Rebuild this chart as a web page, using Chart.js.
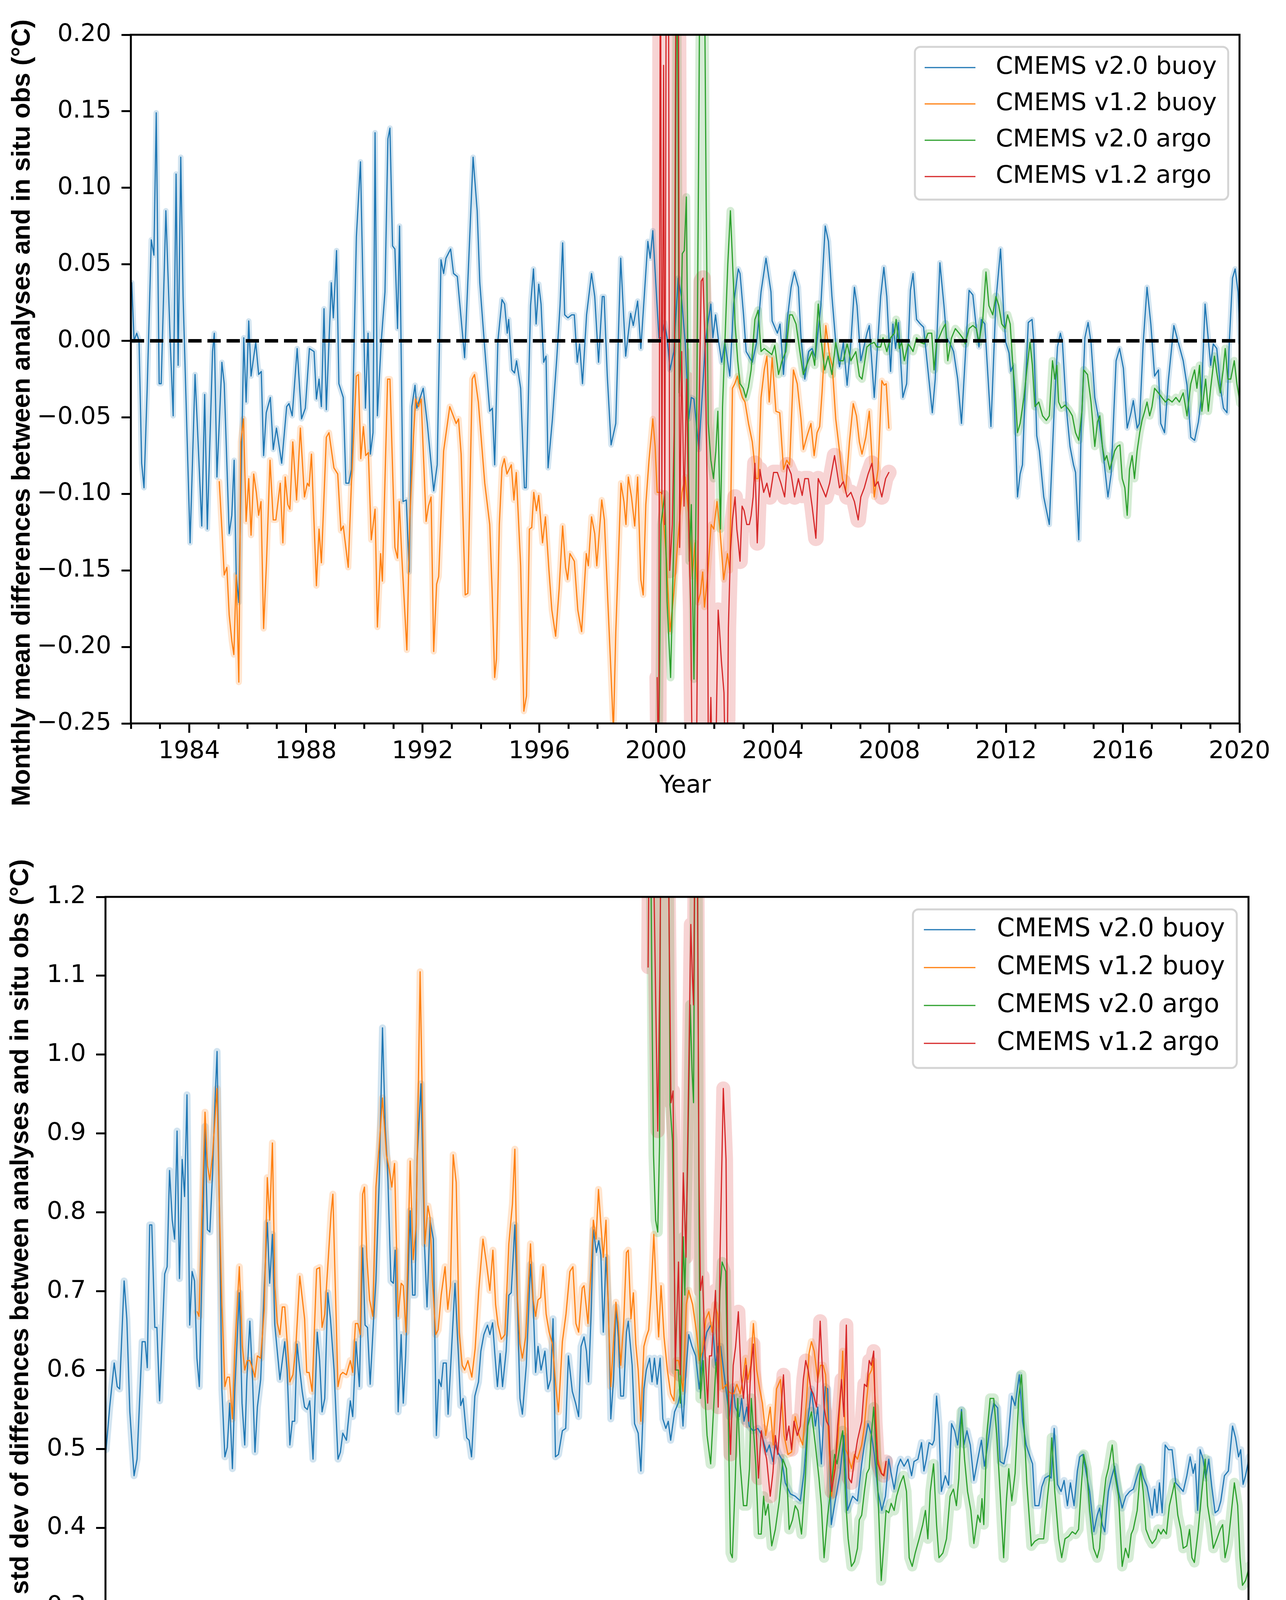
<!DOCTYPE html>
<html>
<head>
<meta charset="utf-8">
<script src="https://cdn.jsdelivr.net/npm/chart.js@4.4.0/dist/chart.umd.min.js"></script>
<style>
  html, body { margin: 0; padding: 0; background: #fff; }
  #wrap { position: relative; width: 3292px; height: 4390px; }
  .panel { position: absolute; left: 0; width: 3292px; }
</style>
</head>
<body>
<div id="wrap">
  <div class="panel" style="top:0;height:2150px"><canvas id="meanChart" width="3292" height="2150"></canvas></div>
  <div class="panel" style="top:2150px;height:2240px"><canvas id="stdChart" width="3292" height="2240"></canvas></div>
</div>
<script>
// ---- data: [decimal year, value] ----
const seriesNames = ['CMEMS v2.0 buoy', 'CMEMS v1.2 buoy', 'CMEMS v2.0 argo', 'CMEMS v1.2 argo'];
const yearRange = [1982, 2020];
const meanTicks = [-0.25, 0.20, 0.05];
const stdTicks = [0.3, 1.2, 0.1];

// top panel: monthly mean differences (degC)
const meanBuoyV20 = [[1982.03,0.038],[1982.11,0.0],[1982.2,0.005],[1982.28,0.0],[1982.37,-0.080],[1982.45,-0.096],[1982.56,-0.031],[1982.7,0.066],[1982.79,0.056],[1982.87,0.149],[1982.97,-0.028],[1983.04,-0.028],[1983.2,0.085],[1983.35,-0.001],[1983.45,-0.049],[1983.55,0.109],[1983.62,-0.016],[1983.71,0.120],[1983.79,0.029],[1984.03,-0.132],[1984.2,-0.022],[1984.29,-0.060],[1984.43,-0.121],[1984.53,-0.035],[1984.62,-0.123],[1984.8,-0.007],[1984.86,0.005],[1984.95,-0.089],[1985.12,-0.014],[1985.2,-0.028],[1985.37,-0.126],[1985.46,-0.114],[1985.54,-0.078],[1985.61,-0.153],[1985.7,-0.171],[1985.78,-0.09],[1985.87,0.002],[1985.95,-0.040],[1986.04,0.013],[1986.12,-0.023],[1986.28,-0.001],[1986.38,-0.022],[1986.47,-0.020],[1986.55,-0.075],[1986.64,-0.047],[1986.78,-0.037],[1986.88,-0.071],[1986.99,-0.057],[1987.17,-0.080],[1987.34,-0.043],[1987.42,-0.041],[1987.53,-0.049],[1987.7,-0.005],[1987.85,-0.051],[1987.98,-0.044],[1988.12,-0.005],[1988.28,-0.007],[1988.36,-0.038],[1988.45,-0.025],[1988.53,-0.043],[1988.62,0.021],[1988.7,-0.045],[1988.87,0.038],[1988.94,0.015],[1989.05,0.059],[1989.13,-0.028],[1989.28,-0.037],[1989.37,-0.093],[1989.47,-0.093],[1989.56,-0.084],[1989.73,0.068],[1989.87,0.117],[1990.04,-0.044],[1990.13,0.005],[1990.21,-0.074],[1990.3,-0.060],[1990.37,0.136],[1990.45,-0.049],[1990.58,-0.001],[1990.71,0.032],[1990.81,0.132],[1990.88,0.139],[1990.97,0.062],[1991.05,0.060],[1991.14,0.008],[1991.21,0.075],[1991.33,-0.105],[1991.44,-0.104],[1991.54,-0.151],[1991.63,-0.043],[1991.74,-0.029],[1991.8,-0.044],[1992.02,-0.031],[1992.16,-0.054],[1992.38,-0.098],[1992.5,-0.081],[1992.63,0.053],[1992.72,0.044],[1992.8,0.054],[1992.96,0.060],[1993.06,0.044],[1993.19,0.042],[1993.44,-0.011],[1993.73,0.120],[1993.87,0.085],[1993.96,0.038],[1994.13,-0.005],[1994.3,-0.046],[1994.39,-0.044],[1994.47,-0.081],[1994.58,0.0],[1994.72,0.027],[1994.81,0.024],[1994.9,0.005],[1994.95,0.014],[1995.06,-0.019],[1995.15,-0.021],[1995.22,-0.013],[1995.36,-0.031],[1995.49,-0.096],[1995.55,-0.096],[1995.7,0.023],[1995.8,0.047],[1995.89,0.011],[1995.98,0.037],[1996.06,0.024],[1996.15,-0.014],[1996.23,-0.010],[1996.3,-0.083],[1996.45,-0.051],[1996.6,-0.011],[1996.71,0.023],[1996.8,0.064],[1996.87,0.017],[1996.98,0.015],[1997.11,0.017],[1997.2,0.017],[1997.3,-0.014],[1997.38,-0.002],[1997.48,-0.028],[1997.62,0.017],[1997.79,0.044],[1997.9,0.029],[1998.03,-0.014],[1998.16,0.029],[1998.22,0.029],[1998.33,-0.023],[1998.46,-0.068],[1998.62,-0.054],[1998.79,0.054],[1998.96,-0.010],[1999.13,0.018],[1999.22,0.010],[1999.37,0.026],[1999.48,-0.005],[1999.72,0.065],[1999.8,0.054],[1999.89,0.072],[2000.1,0.002],[2000.19,0.002],[2000.29,0.012],[2000.38,0.002],[2000.48,-0.019],[2000.61,-0.007],[2000.76,0.041],[2000.87,0.029],[2001.0,-0.001],[2001.12,-0.051],[2001.21,-0.037],[2001.3,-0.038],[2001.47,-0.071],[2001.58,-0.037],[2001.68,-0.004],[2001.77,0.011],[2001.88,0.024],[2001.95,0.002],[2002.04,0.017],[2002.15,-0.001],[2002.25,-0.014],[2002.36,-0.001],[2002.53,-0.023],[2002.66,0.024],[2002.82,0.047],[2002.88,0.044],[2003.0,0.017],[2003.09,-0.007],[2003.3,-0.014],[2003.45,-0.001],[2003.6,0.032],[2003.77,0.054],[2003.94,0.032],[2003.98,0.013],[2004.16,0.005],[2004.25,0.011],[2004.37,-0.022],[2004.5,0.014],[2004.63,0.035],[2004.74,0.045],[2004.88,0.035],[2004.97,0.002],[2005.1,-0.025],[2005.23,-0.007],[2005.35,-0.005],[2005.46,-0.011],[2005.65,0.023],[2005.8,0.075],[2005.91,0.065],[2006.03,0.029],[2006.16,-0.001],[2006.29,-0.017],[2006.42,-0.001],[2006.55,-0.029],[2006.68,-0.001],[2006.8,0.035],[2006.89,0.023],[2007.02,-0.013],[2007.23,0.005],[2007.31,0.010],[2007.48,-0.037],[2007.7,0.029],[2007.81,0.048],[2007.91,0.029],[2008.04,-0.020],[2008.12,0.011],[2008.21,-0.005],[2008.31,0.012],[2008.46,-0.037],[2008.59,-0.028],[2008.72,0.033],[2008.81,0.044],[2008.93,0.014],[2009.06,0.011],[2009.17,0.009],[2009.32,-0.019],[2009.47,-0.047],[2009.57,-0.025],[2009.73,0.051],[2009.87,0.023],[2009.96,0.002],[2010.06,-0.001],[2010.2,-0.007],[2010.34,-0.025],[2010.47,-0.054],[2010.73,0.033],[2010.86,0.030],[2010.98,0.008],[2011.07,-0.004],[2011.15,0.014],[2011.27,0.011],[2011.48,-0.056],[2011.65,0.026],[2011.81,0.060],[2011.92,0.017],[2011.99,-0.001],[2012.1,-0.008],[2012.16,-0.020],[2012.24,-0.016],[2012.39,-0.102],[2012.48,-0.087],[2012.56,-0.081],[2012.65,-0.035],[2012.76,0.012],[2012.89,0.014],[2012.95,-0.001],[2013.05,-0.062],[2013.14,-0.072],[2013.29,-0.102],[2013.48,-0.120],[2013.65,-0.044],[2013.76,-0.004],[2013.86,0.005],[2013.93,-0.001],[2014.06,-0.043],[2014.19,-0.069],[2014.31,-0.081],[2014.38,-0.086],[2014.49,-0.130],[2014.57,-0.060],[2014.7,0.002],[2014.81,0.012],[2014.91,-0.001],[2015.04,-0.037],[2015.17,-0.051],[2015.3,-0.069],[2015.49,-0.102],[2015.6,-0.087],[2015.77,-0.013],[2015.89,-0.005],[2016.02,-0.018],[2016.15,-0.057],[2016.28,-0.047],[2016.36,-0.039],[2016.49,-0.057],[2016.57,-0.054],[2016.7,-0.001],[2016.83,0.035],[2016.96,0.011],[2017.09,-0.023],[2017.22,-0.019],[2017.3,-0.054],[2017.43,-0.060],[2017.56,-0.026],[2017.75,0.010],[2017.9,-0.001],[2018.07,-0.013],[2018.2,-0.029],[2018.33,-0.063],[2018.46,-0.065],[2018.59,-0.053],[2018.69,-0.038],[2018.82,0.024],[2018.93,0.001],[2019.01,-0.016],[2019.1,-0.002],[2019.22,-0.005],[2019.35,-0.031],[2019.45,-0.044],[2019.57,-0.047],[2019.65,-0.001],[2019.76,0.041],[2019.85,0.047],[2019.95,0.032],[2020.02,-0.001]];

const meanBuoyV12 = [[1985.03,-0.092],[1985.12,-0.123],[1985.2,-0.153],[1985.29,-0.148],[1985.37,-0.179],[1985.46,-0.196],[1985.53,-0.205],[1985.61,-0.153],[1985.7,-0.223],[1985.77,-0.066],[1985.86,-0.051],[1985.95,-0.118],[1986.04,-0.090],[1986.12,-0.127],[1986.21,-0.087],[1986.3,-0.099],[1986.38,-0.114],[1986.46,-0.105],[1986.55,-0.188],[1986.65,-0.144],[1986.77,-0.078],[1986.88,-0.117],[1986.97,-0.117],[1987.12,-0.093],[1987.21,-0.132],[1987.29,-0.089],[1987.38,-0.107],[1987.45,-0.110],[1987.55,-0.066],[1987.68,-0.104],[1987.81,-0.057],[1987.95,-0.102],[1988.05,-0.093],[1988.11,-0.095],[1988.19,-0.074],[1988.36,-0.160],[1988.45,-0.123],[1988.53,-0.145],[1988.7,-0.063],[1988.79,-0.060],[1988.96,-0.083],[1989.09,-0.087],[1989.2,-0.124],[1989.28,-0.121],[1989.45,-0.148],[1989.56,-0.093],[1989.73,-0.023],[1989.8,-0.022],[1989.88,-0.077],[1989.97,-0.056],[1990.05,-0.075],[1990.14,-0.073],[1990.24,-0.130],[1990.37,-0.110],[1990.45,-0.187],[1990.56,-0.139],[1990.62,-0.157],[1990.8,-0.025],[1990.88,-0.025],[1991.05,-0.135],[1991.14,-0.142],[1991.2,-0.105],[1991.29,-0.142],[1991.46,-0.202],[1991.56,-0.117],[1991.69,-0.062],[1991.76,-0.038],[1991.86,-0.043],[1991.95,-0.038],[1992.12,-0.118],[1992.2,-0.108],[1992.29,-0.102],[1992.38,-0.203],[1992.48,-0.159],[1992.55,-0.154],[1992.72,-0.072],[1992.93,-0.043],[1993.15,-0.054],[1993.23,-0.051],[1993.32,-0.074],[1993.46,-0.166],[1993.55,-0.165],[1993.7,-0.025],[1993.78,-0.022],[1993.91,-0.040],[1994.13,-0.093],[1994.3,-0.12],[1994.38,-0.162],[1994.47,-0.22],[1994.53,-0.208],[1994.63,-0.12],[1994.72,-0.083],[1994.8,-0.077],[1994.89,-0.087],[1995.04,-0.081],[1995.13,-0.104],[1995.21,-0.086],[1995.36,-0.147],[1995.47,-0.242],[1995.56,-0.232],[1995.66,-0.123],[1995.74,-0.122],[1995.81,-0.099],[1995.9,-0.111],[1995.98,-0.101],[1996.11,-0.132],[1996.21,-0.115],[1996.33,-0.150],[1996.43,-0.176],[1996.56,-0.193],[1996.68,-0.162],[1996.8,-0.121],[1996.9,-0.148],[1996.97,-0.156],[1997.05,-0.139],[1997.2,-0.144],[1997.32,-0.176],[1997.45,-0.19],[1997.61,-0.139],[1997.68,-0.147],[1997.79,-0.115],[1997.9,-0.126],[1997.97,-0.147],[1998.14,-0.104],[1998.23,-0.117],[1998.35,-0.171],[1998.45,-0.214],[1998.54,-0.255],[1998.62,-0.191],[1998.8,-0.093],[1998.9,-0.105],[1998.97,-0.120],[1999.05,-0.089],[1999.16,-0.102],[1999.27,-0.121],[1999.37,-0.089],[1999.48,-0.156],[1999.56,-0.166],[1999.65,-0.107],[1999.76,-0.078],[1999.89,-0.051],[1999.97,-0.069],[2000.04,-0.099],[2000.18,-0.099],[2000.36,-0.143],[2000.48,-0.19],[2000.61,-0.165],[2000.78,-0.123],[2000.89,-0.099],[2001.0,-0.089],[2001.15,-0.12],[2001.24,-0.154],[2001.34,-0.132],[2001.44,-0.171],[2001.52,-0.165],[2001.6,-0.151],[2001.66,-0.174],[2001.77,-0.153],[2001.89,-0.120],[2001.98,-0.123],[2002.09,-0.105],[2002.19,-0.123],[2002.32,-0.156],[2002.45,-0.139],[2002.53,-0.150],[2002.62,-0.031],[2002.7,-0.028],[2002.79,-0.023],[2002.87,-0.031],[2002.96,-0.037],[2003.05,-0.040],[2003.17,-0.054],[2003.3,-0.066],[2003.43,-0.09],[2003.5,-0.09],[2003.6,-0.037],[2003.71,-0.019],[2003.8,-0.01],[2003.88,-0.04],[2003.98,-0.011],[2004.11,-0.046],[2004.24,-0.047],[2004.37,-0.084],[2004.48,-0.078],[2004.58,-0.081],[2004.71,-0.019],[2004.84,-0.028],[2004.97,-0.051],[2005.05,-0.071],[2005.18,-0.062],[2005.31,-0.054],[2005.42,-0.075],[2005.52,-0.060],[2005.61,-0.056],[2005.69,-0.034],[2005.82,0.01],[2005.95,-0.01],[2006.04,-0.016],[2006.16,-0.051],[2006.29,-0.072],[2006.39,-0.09],[2006.5,-0.098],[2006.63,-0.066],[2006.76,-0.041],[2006.87,-0.049],[2006.97,-0.066],[2007.06,-0.074],[2007.19,-0.063],[2007.31,-0.046],[2007.48,-0.102],[2007.61,-0.084],[2007.74,-0.026],[2007.82,-0.029],[2007.89,-0.028],[2007.98,-0.057]];

const meanArgoV20 = [[2000.08,-0.30],[2000.17,-0.12],[2000.3,-0.10],[2000.38,-0.17],[2000.5,-0.22],[2000.62,-0.12],[2000.72,0.30],[2000.79,-0.034],[2000.83,-0.019],[2000.9,0.057],[2000.97,0.059],[2001.04,0.094],[2001.1,-0.028],[2001.14,-0.144],[2001.21,-0.107],[2001.3,-0.221],[2001.37,-0.108],[2001.46,0.118],[2001.52,0.30],[2001.64,0.30],[2001.72,0.088],[2001.79,-0.054],[2001.88,-0.078],[2001.97,-0.090],[2002.05,-0.072],[2002.12,-0.046],[2002.21,-0.123],[2002.28,-0.043],[2002.39,0.014],[2002.46,0.050],[2002.55,0.085],[2002.62,0.053],[2002.71,0.011],[2002.8,-0.013],[2002.88,-0.028],[2002.99,-0.031],[2003.08,-0.037],[2003.17,-0.030],[2003.26,-0.019],[2003.33,-0.001],[2003.39,0.014],[2003.5,0.020],[2003.6,-0.007],[2003.71,-0.005],[2003.84,-0.007],[2003.97,-0.009],[2004.07,-0.003],[2004.2,-0.022],[2004.32,-0.013],[2004.45,-0.007],[2004.58,0.017],[2004.67,0.017],[2004.8,0.011],[2004.93,-0.007],[2005.05,-0.022],[2005.22,-0.013],[2005.35,-0.007],[2005.44,-0.016],[2005.56,0.024],[2005.65,0.002],[2005.78,-0.019],[2005.9,-0.010],[2006.03,-0.022],[2006.16,-0.001],[2006.29,-0.013],[2006.42,-0.013],[2006.55,-0.002],[2006.68,-0.013],[2006.85,-0.007],[2006.97,-0.023],[2007.06,-0.025],[2007.23,-0.004],[2007.35,-0.002],[2007.48,-0.001],[2007.57,-0.004],[2007.7,-0.004],[2007.78,0.002],[2007.91,-0.007],[2008.04,0.002],[2008.17,0.005],[2008.23,0.014],[2008.34,-0.005],[2008.42,-0.001],[2008.51,-0.013],[2008.64,-0.002],[2008.72,-0.004],[2008.81,-0.007],[2008.93,0.002],[2009.06,-0.001],[2009.19,-0.002],[2009.32,0.005],[2009.45,0.005],[2009.53,-0.019],[2009.62,-0.001],[2009.7,0.002],[2009.83,0.008],[2009.92,0.011],[2010.0,-0.013],[2010.13,0.002],[2010.26,0.008],[2010.39,0.005],[2010.51,0.002],[2010.6,-0.002],[2010.73,0.008],[2010.86,0.010],[2010.98,0.008],[2011.07,-0.001],[2011.2,0.014],[2011.31,0.045],[2011.41,0.023],[2011.54,0.017],[2011.65,0.029],[2011.75,0.023],[2011.85,0.011],[2011.97,0.008],[2012.05,0.017],[2012.14,0.011],[2012.22,-0.013],[2012.31,-0.034],[2012.39,-0.060],[2012.48,-0.054],[2012.61,-0.037],[2012.71,-0.019],[2012.82,-0.001],[2012.9,-0.016],[2012.99,-0.043],[2013.12,-0.040],[2013.25,-0.049],[2013.38,-0.052],[2013.48,-0.049],[2013.59,-0.013],[2013.67,-0.025],[2013.74,-0.016],[2013.8,-0.040],[2013.89,-0.044],[2014.02,-0.042],[2014.15,-0.045],[2014.27,-0.049],[2014.38,-0.060],[2014.49,-0.065],[2014.6,-0.046],[2014.66,-0.019],[2014.79,-0.022],[2014.91,-0.040],[2015.04,-0.069],[2015.13,-0.053],[2015.21,-0.049],[2015.3,-0.069],[2015.38,-0.078],[2015.45,-0.075],[2015.55,-0.084],[2015.64,-0.078],[2015.72,-0.072],[2015.81,-0.069],[2015.9,-0.068],[2015.98,-0.090],[2016.07,-0.096],[2016.15,-0.114],[2016.23,-0.084],[2016.32,-0.075],[2016.4,-0.090],[2016.49,-0.072],[2016.58,-0.060],[2016.66,-0.052],[2016.75,-0.046],[2016.83,-0.040],[2016.92,-0.049],[2017.0,-0.043],[2017.09,-0.031],[2017.22,-0.034],[2017.34,-0.037],[2017.46,-0.040],[2017.56,-0.038],[2017.69,-0.040],[2017.82,-0.037],[2017.94,-0.040],[2018.07,-0.034],[2018.2,-0.049],[2018.33,-0.028],[2018.46,-0.019],[2018.54,-0.031],[2018.63,-0.016],[2018.71,-0.046],[2018.84,-0.025],[2018.93,-0.046],[2019.01,-0.031],[2019.14,-0.010],[2019.23,-0.022],[2019.34,-0.034],[2019.44,-0.019],[2019.51,-0.005],[2019.6,-0.025],[2019.7,-0.025],[2019.82,-0.013],[2019.91,-0.028],[2020.02,-0.041]];

const meanArgoV12 = [[2000.04,-0.22],[2000.09,-0.30],[2000.15,0.30],[2000.2,-0.10],[2000.26,0.18],[2000.3,-0.12],[2000.36,0.32],[2000.42,0.32],[2000.47,-0.15],[2000.56,-0.12],[2000.62,-0.06],[2000.7,0.32],[2000.76,0.30],[2000.81,-0.135],[2000.88,-0.007],[2000.96,-0.108],[2001.05,-0.025],[2001.12,-0.12],[2001.19,-0.176],[2001.25,-0.30],[2001.38,-0.30],[2001.47,-0.05],[2001.55,0.039],[2001.61,0.041],[2001.68,-0.001],[2001.75,-0.09],[2001.8,-0.30],[2001.88,-0.233],[2001.95,-0.30],[2002.05,-0.27],[2002.13,-0.176],[2002.18,-0.19],[2002.24,-0.209],[2002.33,-0.23],[2002.37,-0.28],[2002.44,-0.28],[2002.48,-0.188],[2002.55,-0.138],[2002.62,-0.117],[2002.71,-0.102],[2002.77,-0.123],[2002.82,-0.132],[2002.88,-0.144],[2002.95,-0.108],[2003.02,-0.111],[2003.11,-0.12],[2003.2,-0.12],[2003.26,-0.114],[2003.33,-0.102],[2003.39,-0.080],[2003.47,-0.132],[2003.56,-0.084],[2003.69,-0.099],[2003.8,-0.093],[2003.9,-0.102],[2004.03,-0.086],[2004.16,-0.086],[2004.28,-0.093],[2004.41,-0.102],[2004.5,-0.081],[2004.63,-0.087],[2004.75,-0.102],[2004.88,-0.090],[2005.01,-0.101],[2005.1,-0.090],[2005.22,-0.090],[2005.35,-0.108],[2005.48,-0.129],[2005.56,-0.090],[2005.69,-0.096],[2005.82,-0.102],[2005.95,-0.093],[2006.12,-0.075],[2006.29,-0.096],[2006.42,-0.092],[2006.55,-0.102],[2006.68,-0.099],[2006.8,-0.105],[2006.93,-0.117],[2007.02,-0.102],[2007.14,-0.096],[2007.27,-0.087],[2007.4,-0.080],[2007.5,-0.095],[2007.61,-0.092],[2007.74,-0.102],[2007.87,-0.090],[2007.98,-0.086]];

const zeroLineYears = [1982, 2020];

// bottom panel: monthly std dev of differences (degC)
const stdBuoyV20 = [[1982.02,0.499],[1982.14,0.553],[1982.29,0.609],[1982.39,0.579],[1982.47,0.576],[1982.62,0.713],[1982.71,0.665],[1982.81,0.547],[1982.95,0.466],[1983.05,0.487],[1983.22,0.636],[1983.32,0.636],[1983.39,0.603],[1983.47,0.784],[1983.54,0.784],[1983.64,0.654],[1983.71,0.654],[1983.8,0.561],[1983.97,0.722],[1984.05,0.731],[1984.13,0.853],[1984.22,0.790],[1984.3,0.766],[1984.38,0.903],[1984.46,0.716],[1984.55,0.867],[1984.63,0.820],[1984.71,0.949],[1984.8,0.657],[1984.88,0.725],[1984.96,0.713],[1985.04,0.615],[1985.12,0.579],[1985.21,0.731],[1985.31,0.909],[1985.39,0.778],[1985.47,0.775],[1985.56,0.850],[1985.64,0.939],[1985.71,1.004],[1985.79,0.802],[1985.87,0.576],[1985.97,0.490],[1986.05,0.502],[1986.13,0.558],[1986.22,0.475],[1986.3,0.576],[1986.45,0.698],[1986.54,0.558],[1986.63,0.505],[1986.7,0.588],[1986.8,0.662],[1986.89,0.588],[1986.97,0.496],[1987.05,0.553],[1987.16,0.588],[1987.28,0.707],[1987.38,0.787],[1987.46,0.710],[1987.55,0.772],[1987.63,0.657],[1987.8,0.588],[1987.96,0.636],[1988.04,0.600],[1988.13,0.505],[1988.21,0.535],[1988.29,0.535],[1988.37,0.633],[1988.46,0.600],[1988.54,0.573],[1988.62,0.553],[1988.71,0.550],[1988.79,0.561],[1988.9,0.487],[1989.04,0.648],[1989.12,0.612],[1989.2,0.547],[1989.29,0.564],[1989.39,0.698],[1989.48,0.665],[1989.6,0.600],[1989.73,0.487],[1989.81,0.496],[1989.89,0.520],[1990.01,0.511],[1990.14,0.561],[1990.22,0.541],[1990.33,0.636],[1990.44,0.579],[1990.55,0.755],[1990.63,0.657],[1990.71,0.654],[1990.8,0.582],[1990.91,0.662],[1990.99,0.713],[1991.1,0.838],[1991.21,1.034],[1991.3,0.909],[1991.38,0.853],[1991.49,0.713],[1991.57,0.710],[1991.63,0.752],[1991.73,0.547],[1991.83,0.645],[1991.9,0.558],[1991.98,0.618],[1992.13,0.802],[1992.21,0.695],[1992.29,0.695],[1992.36,0.867],[1992.49,0.963],[1992.61,0.755],[1992.69,0.680],[1992.79,0.790],[1992.9,0.766],[1993.0,0.517],[1993.08,0.588],[1993.16,0.579],[1993.23,0.609],[1993.33,0.609],[1993.39,0.544],[1993.49,0.615],[1993.62,0.710],[1993.72,0.630],[1993.81,0.555],[1993.89,0.564],[1994.01,0.514],[1994.09,0.511],[1994.17,0.490],[1994.28,0.567],[1994.4,0.585],[1994.48,0.624],[1994.58,0.645],[1994.7,0.657],[1994.78,0.645],[1994.87,0.660],[1994.95,0.618],[1995.03,0.579],[1995.12,0.621],[1995.2,0.579],[1995.32,0.624],[1995.41,0.695],[1995.49,0.698],[1995.61,0.784],[1995.7,0.677],[1995.78,0.564],[1995.86,0.544],[1995.99,0.606],[1996.13,0.734],[1996.22,0.683],[1996.3,0.597],[1996.38,0.630],[1996.48,0.600],[1996.61,0.624],[1996.71,0.576],[1996.8,0.588],[1996.88,0.665],[1996.96,0.490],[1997.06,0.493],[1997.19,0.523],[1997.3,0.526],[1997.39,0.618],[1997.52,0.573],[1997.63,0.558],[1997.73,0.541],[1997.81,0.630],[1997.91,0.642],[1997.99,0.624],[1998.06,0.585],[1998.14,0.665],[1998.22,0.778],[1998.32,0.749],[1998.4,0.764],[1998.47,0.746],[1998.55,0.648],[1998.64,0.743],[1998.72,0.683],[1998.8,0.538],[1998.89,0.588],[1998.97,0.680],[1999.05,0.642],[1999.13,0.567],[1999.22,0.567],[1999.32,0.648],[1999.38,0.662],[1999.51,0.606],[1999.59,0.532],[1999.71,0.520],[1999.8,0.472],[1999.9,0.576],[1999.98,0.600],[2000.09,0.615],[2000.17,0.585],[2000.25,0.615],[2000.34,0.582],[2000.44,0.615],[2000.53,0.538],[2000.63,0.526],[2000.71,0.535],[2000.79,0.511],[2000.92,0.547],[2001.04,0.558],[2001.12,0.573],[2001.2,0.529],[2001.29,0.594],[2001.39,0.645],[2001.5,0.630],[2001.62,0.618],[2001.74,0.576],[2001.87,0.624],[2001.99,0.648],[2002.12,0.657],[2002.2,0.648],[2002.28,0.606],[2002.37,0.630],[2002.45,0.630],[2002.57,0.594],[2002.74,0.541],[2002.86,0.579],[2002.94,0.553],[2003.07,0.541],[2003.15,0.564],[2003.23,0.535],[2003.32,0.553],[2003.4,0.529],[2003.53,0.523],[2003.69,0.526],[2003.82,0.517],[2003.98,0.496],[2004.07,0.505],[2004.19,0.484],[2004.27,0.505],[2004.35,0.496],[2004.48,0.487],[2004.6,0.457],[2004.77,0.443],[2004.93,0.440],[2005.1,0.434],[2005.22,0.469],[2005.35,0.535],[2005.47,0.576],[2005.6,0.529],[2005.68,0.553],[2005.8,0.481],[2005.93,0.579],[2006.01,0.576],[2006.13,0.404],[2006.26,0.434],[2006.42,0.469],[2006.55,0.517],[2006.67,0.422],[2006.84,0.440],[2007.0,0.434],[2007.14,0.481],[2007.23,0.505],[2007.35,0.532],[2007.47,0.517],[2007.56,0.493],[2007.68,0.446],[2007.81,0.422],[2007.93,0.440],[2008.04,0.487],[2008.12,0.469],[2008.22,0.449],[2008.34,0.478],[2008.43,0.487],[2008.55,0.478],[2008.68,0.487],[2008.8,0.466],[2008.88,0.484],[2009.01,0.487],[2009.13,0.508],[2009.21,0.472],[2009.29,0.487],[2009.38,0.508],[2009.49,0.505],[2009.55,0.511],[2009.63,0.567],[2009.71,0.529],[2009.79,0.446],[2009.92,0.466],[2010.03,0.454],[2010.13,0.532],[2010.23,0.523],[2010.33,0.505],[2010.46,0.550],[2010.54,0.505],[2010.64,0.523],[2010.75,0.505],[2010.87,0.460],[2011.0,0.487],[2011.12,0.511],[2011.22,0.478],[2011.33,0.505],[2011.45,0.541],[2011.53,0.558],[2011.66,0.552],[2011.74,0.484],[2011.87,0.481],[2011.99,0.505],[2012.13,0.567],[2012.24,0.555],[2012.38,0.594],[2012.49,0.535],[2012.61,0.505],[2012.71,0.493],[2012.82,0.481],[2012.9,0.428],[2013.03,0.428],[2013.13,0.452],[2013.23,0.463],[2013.36,0.466],[2013.44,0.463],[2013.54,0.526],[2013.65,0.455],[2013.77,0.446],[2013.87,0.460],[2013.98,0.428],[2014.08,0.457],[2014.2,0.428],[2014.31,0.472],[2014.39,0.490],[2014.49,0.493],[2014.62,0.466],[2014.72,0.446],[2014.86,0.395],[2014.97,0.416],[2015.05,0.425],[2015.14,0.404],[2015.22,0.395],[2015.34,0.446],[2015.44,0.463],[2015.55,0.478],[2015.68,0.446],[2015.8,0.425],[2015.92,0.440],[2016.05,0.446],[2016.17,0.449],[2016.3,0.466],[2016.41,0.478],[2016.51,0.463],[2016.63,0.452],[2016.72,0.434],[2016.8,0.416],[2016.88,0.449],[2016.96,0.419],[2017.04,0.457],[2017.13,0.419],[2017.23,0.505],[2017.34,0.499],[2017.46,0.499],[2017.58,0.457],[2017.7,0.452],[2017.83,0.446],[2017.95,0.466],[2018.06,0.490],[2018.16,0.469],[2018.23,0.481],[2018.31,0.422],[2018.39,0.499],[2018.49,0.487],[2018.58,0.463],[2018.68,0.487],[2018.78,0.452],[2018.89,0.419],[2018.99,0.422],[2019.08,0.434],[2019.2,0.466],[2019.33,0.472],[2019.47,0.529],[2019.57,0.514],[2019.67,0.490],[2019.74,0.499],[2019.82,0.455],[2019.9,0.466],[2019.98,0.481],[2020.02,0.49]];

const stdBuoyV12 = [[1985.05,0.674],[1985.11,0.668],[1985.21,0.802],[1985.31,0.927],[1985.39,0.859],[1985.47,0.841],[1985.56,0.873],[1985.71,0.957],[1985.79,0.802],[1985.87,0.683],[1985.97,0.579],[1986.05,0.591],[1986.12,0.591],[1986.22,0.538],[1986.3,0.624],[1986.45,0.731],[1986.55,0.630],[1986.63,0.600],[1986.71,0.612],[1986.8,0.612],[1986.88,0.603],[1986.97,0.591],[1987.05,0.618],[1987.16,0.615],[1987.28,0.677],[1987.38,0.844],[1987.46,0.790],[1987.55,0.888],[1987.63,0.707],[1987.71,0.660],[1987.8,0.645],[1987.88,0.680],[1987.96,0.680],[1988.04,0.636],[1988.13,0.585],[1988.23,0.594],[1988.32,0.624],[1988.46,0.719],[1988.54,0.692],[1988.62,0.665],[1988.69,0.597],[1988.77,0.597],[1988.87,0.573],[1989.02,0.728],[1989.12,0.730],[1989.2,0.654],[1989.29,0.671],[1989.39,0.731],[1989.5,0.799],[1989.56,0.823],[1989.64,0.707],[1989.73,0.579],[1989.81,0.594],[1989.89,0.597],[1990.01,0.594],[1990.14,0.612],[1990.22,0.597],[1990.31,0.659],[1990.39,0.659],[1990.47,0.645],[1990.55,0.823],[1990.61,0.832],[1990.69,0.743],[1990.78,0.689],[1990.89,0.668],[1990.99,0.832],[1991.09,0.879],[1991.21,0.945],[1991.34,0.873],[1991.44,0.853],[1991.52,0.832],[1991.61,0.862],[1991.73,0.668],[1991.83,0.710],[1991.9,0.707],[1991.99,0.648],[1992.13,0.865],[1992.23,0.740],[1992.33,0.784],[1992.46,1.105],[1992.54,0.927],[1992.62,0.760],[1992.72,0.808],[1992.79,0.793],[1992.87,0.713],[1992.98,0.645],[1993.06,0.651],[1993.16,0.695],[1993.29,0.731],[1993.38,0.677],[1993.47,0.707],[1993.56,0.873],[1993.66,0.838],[1993.76,0.648],[1993.86,0.606],[1993.94,0.600],[1994.05,0.612],[1994.18,0.591],[1994.29,0.627],[1994.41,0.701],[1994.55,0.766],[1994.66,0.737],[1994.78,0.701],[1994.88,0.752],[1994.97,0.683],[1995.05,0.657],[1995.16,0.639],[1995.28,0.645],[1995.41,0.760],[1995.53,0.811],[1995.61,0.880],[1995.7,0.689],[1995.78,0.633],[1995.86,0.615],[1995.97,0.642],[1996.13,0.760],[1996.22,0.689],[1996.3,0.668],[1996.38,0.689],[1996.47,0.692],[1996.55,0.731],[1996.65,0.671],[1996.75,0.648],[1996.86,0.633],[1996.98,0.576],[1997.06,0.547],[1997.19,0.636],[1997.31,0.671],[1997.44,0.725],[1997.54,0.731],[1997.64,0.659],[1997.73,0.648],[1997.85,0.704],[1997.91,0.707],[1998.04,0.659],[1998.14,0.725],[1998.22,0.790],[1998.31,0.766],[1998.39,0.829],[1998.47,0.784],[1998.55,0.743],[1998.64,0.790],[1998.72,0.671],[1998.8,0.579],[1998.97,0.686],[1999.05,0.659],[1999.13,0.606],[1999.23,0.662],[1999.32,0.749],[1999.38,0.752],[1999.47,0.665],[1999.55,0.698],[1999.63,0.633],[1999.71,0.600],[1999.8,0.535],[1999.9,0.630],[1999.98,0.642],[2000.06,0.651],[2000.14,0.698],[2000.23,0.772],[2000.31,0.701],[2000.39,0.642],[2000.47,0.707],[2000.57,0.642],[2000.68,0.600],[2000.79,0.570],[2000.9,0.561],[2000.96,0.612],[2001.05,0.612],[2001.13,0.594],[2001.2,0.573],[2001.31,0.683],[2001.39,0.701],[2001.52,0.683],[2001.65,0.648],[2001.74,0.612],[2001.85,0.624],[2001.96,0.665],[2002.06,0.674],[2002.17,0.648],[2002.26,0.683],[2002.35,0.671],[2002.43,0.630],[2002.52,0.576],[2002.65,0.582],[2002.71,0.573],[2002.82,0.570],[2002.89,0.570],[2002.99,0.582],[2003.1,0.570],[2003.19,0.588],[2003.28,0.615],[2003.36,0.588],[2003.45,0.606],[2003.54,0.659],[2003.65,0.600],[2003.75,0.576],[2003.84,0.558],[2003.95,0.517],[2004.1,0.553],[2004.2,0.505],[2004.31,0.576],[2004.44,0.588],[2004.56,0.517],[2004.69,0.493],[2004.81,0.496],[2004.93,0.541],[2005.06,0.517],[2005.18,0.505],[2005.31,0.564],[2005.39,0.621],[2005.47,0.636],[2005.56,0.624],[2005.68,0.588],[2005.77,0.606],[2005.86,0.606],[2005.94,0.594],[2006.05,0.505],[2006.14,0.440],[2006.22,0.475],[2006.34,0.505],[2006.47,0.588],[2006.51,0.624],[2006.61,0.499],[2006.68,0.493],[2006.8,0.475],[2006.9,0.493],[2007.0,0.487],[2007.14,0.505],[2007.23,0.529],[2007.31,0.564],[2007.39,0.594],[2007.47,0.600],[2007.52,0.612],[2007.6,0.553],[2007.68,0.487],[2007.81,0.469],[2007.89,0.466],[2007.95,0.481]];

const stdArgoV20 = [[2000.06,1.30],[2000.12,1.30],[2000.18,1.022],[2000.22,0.873],[2000.29,0.790],[2000.36,0.775],[2000.42,0.885],[2000.46,1.30],[2000.72,1.30],[2000.77,0.936],[2000.85,0.891],[2000.96,0.600],[2001.05,0.600],[2001.11,0.558],[2001.21,0.769],[2001.26,0.695],[2001.35,0.85],[2001.44,1.063],[2001.5,0.98],[2001.55,0.939],[2001.6,1.30],[2001.68,1.30],[2001.73,0.80],[2001.78,0.564],[2001.87,0.612],[2002.0,0.517],[2002.12,0.481],[2002.22,0.553],[2002.3,0.610],[2002.36,0.580],[2002.43,0.700],[2002.5,0.737],[2002.62,0.725],[2002.69,0.576],[2002.78,0.368],[2002.84,0.362],[2002.93,0.452],[2003.02,0.564],[2003.1,0.481],[2003.21,0.428],[2003.32,0.428],[2003.41,0.475],[2003.47,0.564],[2003.55,0.520],[2003.62,0.480],[2003.71,0.392],[2003.8,0.392],[2003.88,0.440],[2003.94,0.416],[2004.03,0.430],[2004.15,0.377],[2004.27,0.398],[2004.4,0.434],[2004.52,0.487],[2004.64,0.475],[2004.73,0.398],[2004.84,0.410],[2004.93,0.428],[2005.02,0.422],[2005.14,0.392],[2005.25,0.452],[2005.35,0.529],[2005.47,0.547],[2005.6,0.505],[2005.72,0.463],[2005.8,0.428],[2005.89,0.362],[2006.01,0.416],[2006.14,0.457],[2006.24,0.493],[2006.32,0.481],[2006.42,0.505],[2006.51,0.523],[2006.61,0.434],[2006.69,0.386],[2006.8,0.351],[2006.9,0.357],[2007.0,0.374],[2007.06,0.410],[2007.14,0.416],[2007.23,0.446],[2007.31,0.469],[2007.39,0.475],[2007.46,0.517],[2007.54,0.553],[2007.6,0.511],[2007.68,0.446],[2007.79,0.333],[2007.89,0.386],[2007.95,0.422],[2008.04,0.419],[2008.12,0.431],[2008.22,0.422],[2008.3,0.440],[2008.43,0.457],[2008.53,0.466],[2008.63,0.446],[2008.72,0.362],[2008.82,0.351],[2008.92,0.368],[2009.05,0.386],[2009.17,0.404],[2009.26,0.422],[2009.34,0.386],[2009.42,0.446],[2009.53,0.481],[2009.63,0.404],[2009.71,0.362],[2009.84,0.368],[2009.96,0.386],[2010.08,0.440],[2010.19,0.449],[2010.29,0.428],[2010.37,0.463],[2010.46,0.547],[2010.56,0.487],[2010.66,0.446],[2010.77,0.422],[2010.87,0.380],[2011.0,0.416],[2011.08,0.407],[2011.14,0.437],[2011.2,0.404],[2011.3,0.517],[2011.41,0.564],[2011.53,0.564],[2011.63,0.519],[2011.74,0.446],[2011.86,0.362],[2011.95,0.434],[2012.03,0.475],[2012.13,0.434],[2012.24,0.469],[2012.36,0.564],[2012.45,0.594],[2012.53,0.535],[2012.63,0.457],[2012.78,0.377],[2012.9,0.383],[2013.03,0.386],[2013.19,0.386],[2013.32,0.440],[2013.4,0.469],[2013.46,0.514],[2013.56,0.446],[2013.69,0.386],[2013.79,0.362],[2013.9,0.386],[2014.02,0.389],[2014.14,0.395],[2014.25,0.392],[2014.35,0.398],[2014.43,0.446],[2014.52,0.493],[2014.62,0.475],[2014.72,0.422],[2014.85,0.374],[2014.97,0.362],[2015.05,0.374],[2015.14,0.422],[2015.26,0.463],[2015.34,0.475],[2015.47,0.505],[2015.55,0.469],[2015.68,0.440],[2015.8,0.351],[2015.91,0.374],[2016.01,0.362],[2016.1,0.392],[2016.17,0.398],[2016.3,0.422],[2016.41,0.475],[2016.5,0.446],[2016.59,0.398],[2016.71,0.386],[2016.8,0.380],[2016.92,0.386],[2017.0,0.398],[2017.09,0.392],[2017.17,0.398],[2017.27,0.392],[2017.37,0.428],[2017.48,0.446],[2017.54,0.457],[2017.65,0.416],[2017.75,0.398],[2017.83,0.374],[2017.95,0.377],[2018.04,0.398],[2018.12,0.362],[2018.2,0.356],[2018.33,0.398],[2018.45,0.446],[2018.56,0.487],[2018.64,0.428],[2018.74,0.404],[2018.83,0.374],[2018.95,0.386],[2019.06,0.398],[2019.14,0.404],[2019.22,0.362],[2019.32,0.380],[2019.42,0.416],[2019.53,0.457],[2019.64,0.428],[2019.72,0.362],[2019.8,0.327],[2019.9,0.333],[2020.03,0.351]];

const stdArgoV12 = [[2000.04,1.111],[2000.08,1.30],[2000.2,1.30],[2000.28,1.10],[2000.36,0.903],[2000.43,1.10],[2000.47,1.30],[2000.7,1.30],[2000.77,1.05],[2000.8,0.939],[2000.87,0.954],[2000.94,0.600],[2001.05,0.737],[2001.11,0.594],[2001.21,0.850],[2001.3,0.743],[2001.38,0.95],[2001.46,1.165],[2001.51,1.10],[2001.55,1.063],[2001.6,1.30],[2001.67,1.30],[2001.73,0.85],[2001.78,0.701],[2001.85,0.719],[2001.93,0.624],[2002.02,0.558],[2002.08,0.618],[2002.15,0.618],[2002.28,0.701],[2002.33,0.624],[2002.37,0.553],[2002.43,0.743],[2002.54,0.957],[2002.63,0.867],[2002.69,0.594],[2002.78,0.493],[2002.87,0.606],[2002.95,0.630],[2003.04,0.674],[2003.13,0.594],[2003.21,0.564],[2003.3,0.606],[2003.38,0.535],[2003.45,0.600],[2003.54,0.633],[2003.62,0.535],[2003.71,0.463],[2003.8,0.523],[2003.88,0.505],[2003.98,0.487],[2004.1,0.440],[2004.19,0.470],[2004.27,0.517],[2004.35,0.493],[2004.44,0.541],[2004.54,0.594],[2004.64,0.511],[2004.72,0.529],[2004.81,0.499],[2004.89,0.535],[2005.0,0.517],[2005.1,0.529],[2005.2,0.588],[2005.28,0.612],[2005.36,0.600],[2005.45,0.576],[2005.53,0.570],[2005.64,0.553],[2005.76,0.662],[2005.89,0.553],[2005.97,0.535],[2006.05,0.529],[2006.14,0.446],[2006.26,0.475],[2006.34,0.529],[2006.47,0.588],[2006.55,0.541],[2006.63,0.657],[2006.71,0.463],[2006.8,0.457],[2006.9,0.487],[2007.0,0.511],[2007.14,0.535],[2007.23,0.582],[2007.31,0.579],[2007.39,0.612],[2007.46,0.606],[2007.54,0.624],[2007.6,0.535],[2007.68,0.481],[2007.79,0.469],[2007.87,0.466],[2007.95,0.484]];

// ---- styling ----
const lineColors = ['#1f77b4', '#ff7f0e', '#2ca02c', '#d62728'];
const bandColors = ['rgba(31,119,180,0.2)', 'rgba(255,127,14,0.2)', 'rgba(44,160,44,0.2)', 'rgba(214,39,40,0.2)'];

function toPoints(pairs) {
  return pairs.map(p => ({x: p[0], y: p[1]}));
}

function buildDatasets(seriesList, bandWidths, withZero) {
  const sets = [];
  seriesList.forEach((pairs, i) => {
    const pts = toPoints(pairs);
    // soft spread band behind each line
    sets.push({
      data: pts, borderColor: bandColors[i], borderWidth: bandWidths[i],
      borderJoinStyle: 'round', borderCapStyle: 'round',
      pointRadius: 0, fill: false, tension: 0, clip: 0, order: 20 - i
    });
    sets.push({
      label: seriesNames[i], legendRank: i + 1,
      data: pts, borderColor: lineColors[i], borderWidth: 3,
      borderJoinStyle: 'round', borderCapStyle: 'round',
      pointRadius: 0, fill: false, tension: 0, clip: 0, order: 8 - i
    });
  });
  if (withZero) {
    sets.push({
      data: zeroLineYears.map(x => ({x: x, y: 0})),
      borderColor: '#000', borderWidth: 9, borderDash: [34, 15],
      pointRadius: 0, fill: false, clip: 0, order: 0
    });
  }
  return sets;
}

function roundedBox(ctx, x, y, w, h, r) {
  ctx.beginPath();
  ctx.moveTo(x + r, y);
  ctx.lineTo(x + w - r, y);
  ctx.arcTo(x + w, y, x + w, y + r, r);
  ctx.lineTo(x + w, y + h - r);
  ctx.arcTo(x + w, y + h, x + w - r, y + h, r);
  ctx.lineTo(x + r, y + h);
  ctx.arcTo(x, y + h, x, y + h - r, r);
  ctx.lineTo(x, y + r);
  ctx.arcTo(x, y, x + r, y, r);
  ctx.closePath();
}

// frame, legend box and rotated y title, drawn matplotlib-style
const panelDecor = {
  id: 'panelDecor',
  afterDraw(chart, args, opts) {
    const ctx = chart.ctx;
    const a = chart.chartArea;
    ctx.save();
    ctx.lineWidth = 5;
    ctx.strokeStyle = '#000';
    ctx.strokeRect(a.left, a.top, a.right - a.left, a.bottom - a.top);

    const lg = opts.legend;
    const bx = a.right - lg.right - lg.width;
    const by = a.top + lg.top;
    roundedBox(ctx, bx, by, lg.width, lg.height, 14);
    ctx.fillStyle = 'rgba(255,255,255,0.8)';
    ctx.fill();
    ctx.lineWidth = 5;
    ctx.strokeStyle = '#d4d4d4';
    ctx.stroke();
    const items = chart.data.datasets.filter(d => d.legendRank).sort((p, q) => p.legendRank - q.legendRank);
    ctx.font = lg.fontSize + 'px "DejaVu Sans"';
    ctx.textAlign = 'left';
    ctx.textBaseline = 'middle';
    items.forEach((d, i) => {
      const y = by + lg.firstRow + i * lg.rowGap;
      ctx.beginPath();
      ctx.strokeStyle = d.borderColor;
      ctx.lineWidth = 3;
      ctx.moveTo(bx + lg.lineStart, y);
      ctx.lineTo(bx + lg.lineEnd, y);
      ctx.stroke();
      ctx.fillStyle = '#000';
      ctx.fillText(d.label, bx + lg.textStart, y);
    });

    const t = opts.yTitle;
    ctx.translate(t.x, t.y);
    ctx.rotate(-Math.PI / 2);
    ctx.font = 'bold 66px "Liberation Sans", Arial, sans-serif';
    ctx.fillStyle = '#000';
    ctx.textAlign = 'left';
    ctx.textBaseline = 'alphabetic';
    ctx.fillText(t.text, 0, 0);
    ctx.restore();
  }
};

function makePanel(id, cfg) {
  const tickFont = {family: 'DejaVu Sans', size: cfg.tickSize};
  return new Chart(document.getElementById(id), {
    type: 'line',
    data: {datasets: cfg.datasets},
    plugins: [panelDecor],
    options: {
      responsive: false,
      animation: false,
      devicePixelRatio: 1,
      events: [],
      layout: {padding: {top: cfg.top, right: cfg.right, left: 0, bottom: 0}},
      plugins: {
        legend: {display: false},
        tooltip: {enabled: false},
        panelDecor: {legend: cfg.legend, yTitle: cfg.yTitle}
      },
      scales: {
        xMinor: {
          type: 'linear', position: 'bottom', weight: 0,
          min: yearRange[0], max: yearRange[1],
          ticks: {display: false, stepSize: 1, autoSkip: false},
          grid: {drawOnChartArea: false, tickLength: 14, tickWidth: 5, tickColor: '#000'},
          border: {display: false},
          afterFit: s => { s.height = 0; }
        },
        x: {
          type: 'linear', position: 'bottom', weight: 1,
          min: yearRange[0], max: yearRange[1],
          ticks: {
            stepSize: 4, includeBounds: false, autoSkip: false, maxRotation: 0,
            font: tickFont, color: '#000', padding: 12,
            callback: v => String(v)
          },
          grid: {drawOnChartArea: false, tickLength: 24, tickWidth: 5, tickColor: '#000'},
          border: {display: false},
          title: {display: true, text: 'Year', color: '#000',
                  font: {family: 'DejaVu Sans', size: cfg.tickSize}, padding: {top: 0, bottom: cfg.yearPad}},
          afterFit: s => { s.height = cfg.xHeight; }
        },
        y: {
          type: 'linear', position: 'left',
          min: cfg.yTicks[0], max: cfg.yTicks[1],
          ticks: {
            stepSize: cfg.yTicks[2], autoSkip: false, font: tickFont, color: '#000', padding: 26,
            callback: v => (Math.abs(v) < 1e-9 ? 0 : v).toFixed(cfg.decimals).replace('-', '\u2212')
          },
          grid: {drawOnChartArea: false, tickLength: 24, tickWidth: 5, tickColor: '#000'},
          border: {display: false},
          afterFit: s => { s.width = cfg.left; }
        }
      }
    }
  });
}

makePanel('meanChart', {
  datasets: buildDatasets([meanBuoyV20, meanBuoyV12, meanArgoV20, meanArgoV12], [14, 16, 20, 40], true),
  top: 89, right: 119, left: 335, xHeight: 298, yearPad: 100,
  tickSize: 62, yTicks: meanTicks, decimals: 2,
  legend: {right: 29, top: 31, width: 802, height: 391, firstRow: 53, rowGap: 93,
           lineStart: 25, lineEnd: 155, textStart: 207, fontSize: 63},
  yTitle: {x: 76, y: 2064, text: 'Monthly mean differences between analyses and in situ obs (\u00b0C)'}
});

makePanel('stdChart', {
  datasets: buildDatasets([stdBuoyV20, stdBuoyV12, stdArgoV20, stdArgoV12], [18, 18, 26, 36], false),
  top: 146, right: 96, left: 270, xHeight: 277, yearPad: 78,
  tickSize: 63, yTicks: stdTicks, decimals: 1,
  legend: {right: 30, top: 32, width: 829, height: 406, firstRow: 52, rowGap: 97,
           lineStart: 28, lineEnd: 160, textStart: 215, fontSize: 65},
  yTitle: {x: 72, y: 2203, text: 'Monthly std dev of differences between analyses and in situ obs (\u00b0C)'}
});
</script>
</body>
</html>
